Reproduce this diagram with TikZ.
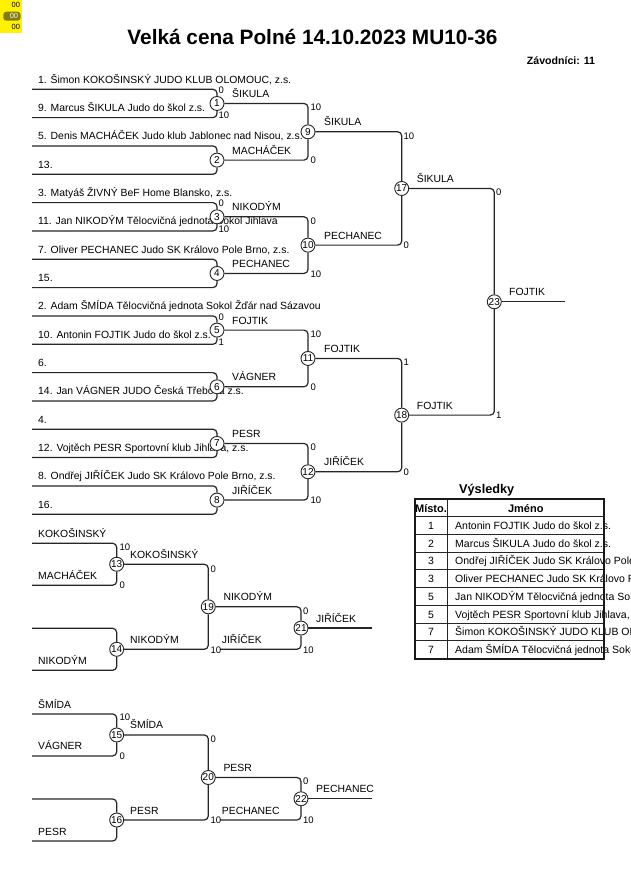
\documentclass[tikz,border=0pt]{standalone}
\usepackage{fontspec}
\setmainfont{Liberation Sans}
\begin{document}
\begin{tikzpicture}[x=1pt,y=-1pt,
  ln/.style={line width=1.2pt, draw=black!85, rounded corners=4pt},
  mc/.style={circle, draw=black!85, line width=0.9pt, fill=white, inner sep=0pt, minimum size=14pt, font=\fontsize{10}{10}\selectfont},
  nm/.style={anchor=base west, inner sep=0pt, font=\fontsize{10.4}{12}\selectfont},
  sc/.style={anchor=west, inner sep=0pt, font=\fontsize{9.5}{10}\selectfont},
  tb/.style={line width=0.8pt, draw=black!85},
]
\useasboundingbox (0,0) rectangle (630,891);
\fill[white] (0,0) rectangle (630,891);

% corner marker
\fill[yellow] (0,0) rectangle (22,33);
\fill[olive!90!black, rounded corners=3pt] (3.3,11.7) rectangle (20.5,20.7);
\node[inner sep=0pt, font=\fontsize{7.5}{8}\selectfont] (y1) at (15.8,5) {00};
\node[inner sep=0pt, font=\fontsize{7.5}{8}\selectfont, text=white] (y2) at (14,16) {00};
\node[inner sep=0pt, font=\fontsize{7.5}{8}\selectfont] (y3) at (15.8,27) {00};

% title
\node[anchor=base, inner sep=0pt, font=\bfseries\fontsize{20.8}{22}\selectfont] (title) at (312.5,45) {Velká cena Polné 14.10.2023 MU10-36};
\node[anchor=base west, inner sep=0pt, font=\bfseries\fontsize{10.6}{12}\selectfont] (zav) at (526.7,64.5) {Závodníci: 11};

% entries
\foreach \i/\t in {0/{1. Šimon KOKOŠINSKÝ JUDO KLUB OLOMOUC, z.s.},
                   1/{9. Marcus ŠIKULA Judo do škol z.s.},
                   2/{5. Denis MACHÁČEK Judo klub Jablonec nad Nisou, z.s.},
                   3/{13.},
                   4/{3. Matyáš ŽIVNÝ BeF Home Blansko, z.s.},
                   5/{11. Jan NIKODÝM Tělocvičná jednota Sokol Jihlava},
                   6/{7. Oliver PECHANEC Judo SK Královo Pole Brno, z.s.},
                   7/{15.},
                   8/{2. Adam ŠMÍDA Tělocvičná jednota Sokol Žďár nad Sázavou},
                   9/{10. Antonin FOJTIK Judo do škol z.s.},
                   10/{6.},
                   11/{14. Jan VÁGNER JUDO Česká Třebová z.s.},
                   12/{4.},
                   13/{12. Vojtěch PESR Sportovní klub Jihlava, z.s.},
                   14/{8. Ondřej JIŘÍČEK Judo SK Královo Pole Brno, z.s.},
                   15/{16.}}
{
  \coordinate (s\i) at (32, {89.3+28.33*\i});
  \node[nm] (n\i) at (38, {89.3+28.33*\i-6}) {\t};
}

% round 1 circles
\foreach \k in {1,...,8}
  \node[mc] (c\k) at (217, {89.3+28.33*(2*\k-2)+14.165}) {\k};
\foreach \k [evaluate=\k as \a using int(2*\k-2), evaluate=\k as \b using int(2*\k-1)] in {1,...,8}
{
  \draw[ln] (s\a) -| (c\k.north);
  \draw[ln] (s\b) -| (c\k.south);
}

% later rounds
\node[mc] (c9)  at (308,131.8)  {9};
\node[mc] (c10) at (308,245.12) {10};
\node[mc] (c11) at (308,358.44) {11};
\node[mc] (c12) at (308,471.76) {12};
\node[mc] (c17) at (401.7,188.46) {17};
\node[mc] (c18) at (401.7,415.1)  {18};
\node[mc] (c23) at (494.3,301.78) {23};
\coordinate (fin) at (565,301.78);

\draw[ln] (c1.east) -| (c9.north);  \draw[ln] (c2.east) -| (c9.south);
\draw[ln] (c3.east) -| (c10.north); \draw[ln] (c4.east) -| (c10.south);
\draw[ln] (c5.east) -| (c11.north); \draw[ln] (c6.east) -| (c11.south);
\draw[ln] (c7.east) -| (c12.north); \draw[ln] (c8.east) -| (c12.south);
\draw[ln] (c9.east) -| (c17.north); \draw[ln] (c10.east) -| (c17.south);
\draw[ln] (c11.east) -| (c18.north); \draw[ln] (c12.east) -| (c18.south);
\draw[ln] (c17.east) -| (c23.north); \draw[ln] (c18.east) -| (c23.south);
\draw[ln] (c23.east) -- (fin);

% winner labels
\node[nm] (w1) at (232,{103.47-6}) {ŠIKULA};
\node[nm] (w2) at (232,{160.13-6}) {MACHÁČEK};
\node[nm] (w3) at (232,{216.79-6}) {NIKODÝM};
\node[nm] (w4) at (232,{273.45-6}) {PECHANEC};
\node[nm] (w5) at (232,{330.1-6})  {FOJTIK};
\node[nm] (w6) at (232,{386.77-6}) {VÁGNER};
\node[nm] (w7) at (232,{443.43-6}) {PESR};
\node[nm] (w8) at (232,{500.09-6}) {JIŘÍČEK};
\node[nm] (w9)  at (324,{131.8-6})  {ŠIKULA};
\node[nm] (w10) at (324,{245.12-6}) {PECHANEC};
\node[nm] (w11) at (324,{358.44-6}) {FOJTIK};
\node[nm] (w12) at (324,{471.76-6}) {JIŘÍČEK};
\node[nm] (w17) at (416.7,{188.46-6}) {ŠIKULA};
\node[nm] (w18) at (416.7,{415.1-6})  {FOJTIK};
\node[nm] (w23) at (509,{301.78-6})   {FOJTIK};

% scores round 1
\node[sc] (p1a) at (218.5,{89.3+1})     {0};
\node[sc] (p1b) at (218.5,{117.63-2})   {10};
\node[sc] (p3a) at (218.5,{202.62+1})   {0};
\node[sc] (p3b) at (218.5,{230.95-2})   {10};
\node[sc] (p5a) at (218.5,{315.94+1})   {0};
\node[sc] (p5b) at (218.5,{344.27-2})   {1};
% scores round 2
\node[sc] (p9a)  at (310.5,{103.47+4})  {10};
\node[sc] (p9b)  at (310.5,{160.13+0.5}) {0};
\node[sc] (p10a) at (310.5,{216.79+4})  {0};
\node[sc] (p10b) at (310.5,{273.45+0.5}) {10};
\node[sc] (p11a) at (310.5,{330.1+4})   {10};
\node[sc] (p11b) at (310.5,{386.77+0.5}) {0};
\node[sc] (p12a) at (310.5,{443.43+4})  {0};
\node[sc] (p12b) at (310.5,{500.09+0.5}) {10};
% scores round 3 and final
\node[sc] (p17a) at (403.5,{131.8+4})   {10};
\node[sc] (p17b) at (403.5,{245.12+0.5}) {0};
\node[sc] (p18a) at (403.5,{358.44+4})  {1};
\node[sc] (p18b) at (403.5,{471.76+0.5}) {0};
\node[sc] (p23a) at (496,{188.46+4})    {0};
\node[sc] (p23b) at (496,{415.1+0.5})   {1};

% repechage A
\coordinate (ra0) at (32,543.3);
\coordinate (ra1) at (32,585.2);
\coordinate (ra2) at (32,628.3);
\coordinate (ra3) at (32,670.3);
\node[mc] (c13) at (116.7,564.25) {13};
\node[mc] (c14) at (116.7,649.3)  {14};
\node[mc] (c19) at (208.3,606.8)  {19};
\node[mc] (c21) at (301,628.05)   {21};
\coordinate (i21) at (220,649.3);
\coordinate (fa) at (371.7,628.05);
\draw[ln] (ra0) -| (c13.north); \draw[ln] (ra1) -| (c13.south);
\draw[ln] (ra2) -| (c14.north); \draw[ln] (ra3) -| (c14.south);
\draw[ln] (c13.east) -| (c19.north); \draw[ln] (c14.east) -| (c19.south);
\draw[ln] (c19.east) -| (c21.north); \draw[ln] (i21) -| (c21.south);
\draw[ln] (c21.east) -- (fa);
\node[nm] (ka) at (38,{543.3-6}) {KOKOŠINSKÝ};
\node[nm] (kb) at (38,{585.2-6}) {MACHÁČEK};
\node[nm] (kc) at (38,{670.3-6}) {NIKODÝM};
\node[nm] (w13) at (130,{564.25-6}) {KOKOŠINSKÝ};
\node[nm] (w14) at (130,{649.3-6})  {NIKODÝM};
\node[nm] (w19) at (223.3,{606.8-6}) {NIKODÝM};
\node[nm] (i21l) at (221.7,{649.3-6}) {JIŘÍČEK};
\node[nm] (w21) at (316,{628.05-6}) {JIŘÍČEK};
\node[sc] (p13a) at (119.5,{543.3+3.5}) {10};
\node[sc] (p13b) at (119.5,{585.2+0.5}) {0};
\node[sc] (p19a) at (210.5,{564.25+4.5}) {0};
\node[sc] (p19b) at (210.5,{649.3+0.5}) {10};
\node[sc] (p21a) at (303,{606.8+4}) {0};
\node[sc] (p21b) at (303,{649.3+0.5}) {10};

% repechage B
\coordinate (rb0) at (32,714);
\coordinate (rb1) at (32,755.9);
\coordinate (rb2) at (32,799);
\coordinate (rb3) at (32,841);
\node[mc] (c15) at (116.7,734.95) {15};
\node[mc] (c16) at (116.7,820)    {16};
\node[mc] (c20) at (208.3,777.5)  {20};
\node[mc] (c22) at (301,798.75)   {22};
\coordinate (i22) at (220,820);
\coordinate (fb) at (371.7,798.75);
\draw[ln] (rb0) -| (c15.north); \draw[ln] (rb1) -| (c15.south);
\draw[ln] (rb2) -| (c16.north); \draw[ln] (rb3) -| (c16.south);
\draw[ln] (c15.east) -| (c20.north); \draw[ln] (c16.east) -| (c20.south);
\draw[ln] (c20.east) -| (c22.north); \draw[ln] (i22) -| (c22.south);
\draw[ln] (c22.east) -- (fb);
\node[nm] (la) at (38,{714-6}) {ŠMÍDA};
\node[nm] (lb) at (38,{755.9-6}) {VÁGNER};
\node[nm] (lc) at (38,{841-6}) {PESR};
\node[nm] (w15) at (130,{734.95-6}) {ŠMÍDA};
\node[nm] (w16) at (130,{820-6})    {PESR};
\node[nm] (w20) at (223.3,{777.5-6}) {PESR};
\node[nm] (i22l) at (221.7,{820-6}) {PECHANEC};
\node[nm] (w22) at (316,{798.75-6}) {PECHANEC};
\node[sc] (p15a) at (119.5,{714+3.5}) {10};
\node[sc] (p15b) at (119.5,{755.9+0.5}) {0};
\node[sc] (p20a) at (210.5,{734.95+4.5}) {0};
\node[sc] (p20b) at (210.5,{820+0.5}) {10};
\node[sc] (p22a) at (303,{777.5+4}) {0};
\node[sc] (p22b) at (303,{820+0.5}) {10};

% results table
\node[anchor=base, inner sep=0pt, font=\bfseries\fontsize{12.7}{14}\selectfont] (vys) at (486.7,493.5) {Výsledky};
\node[anchor=base, inner sep=0pt, font=\bfseries\fontsize{11}{12}\selectfont] (hm) at (431,512.3) {Místo.};
\node[anchor=base, inner sep=0pt, font=\bfseries\fontsize{11}{12}\selectfont] (hj) at (525.8,512.3) {Jméno};
\foreach \k/\p/\t in {1/1/{Antonin FOJTIK Judo do škol z.s.},
                      2/2/{Marcus ŠIKULA Judo do škol z.s.},
                      3/3/{Ondřej JIŘÍČEK Judo SK Královo Pole Brno, z.s.},
                      4/3/{Oliver PECHANEC Judo SK Královo Pole Brno, z.s.},
                      5/5/{Jan NIKODÝM Tělocvičná jednota Sokol Jihlava},
                      6/5/{Vojtěch PESR Sportovní klub Jihlava, z.s.},
                      7/7/{Šimon KOKOŠINSKÝ JUDO KLUB OLOMOUC, z.s.},
                      8/7/{Adam ŠMÍDA Tělocvičná jednota Sokol Žďár nad Sázavou}}
{
  \node[anchor=base, inner sep=0pt, font=\fontsize{10.5}{12}\selectfont] (rp\k) at (431,{516.7+17.73*(\k-0.5)+3.8}) {\p};
  \node[anchor=base west, inner sep=0pt, font=\fontsize{10.5}{12}\selectfont] (rn\k) at (455,{516.7+17.73*(\k-0.5)+3.8}) {\t};
}
\foreach \k in {0,...,7}
  \draw[tb] (415,{516.7+17.73*\k}) -- (604.3,{516.7+17.73*\k});
\draw[tb] (447.3,499) -- (447.3,658.5);
\draw[line width=2pt, draw=black!90] (415,499) rectangle (604.3,658.5);
\end{tikzpicture}
\end{document}
